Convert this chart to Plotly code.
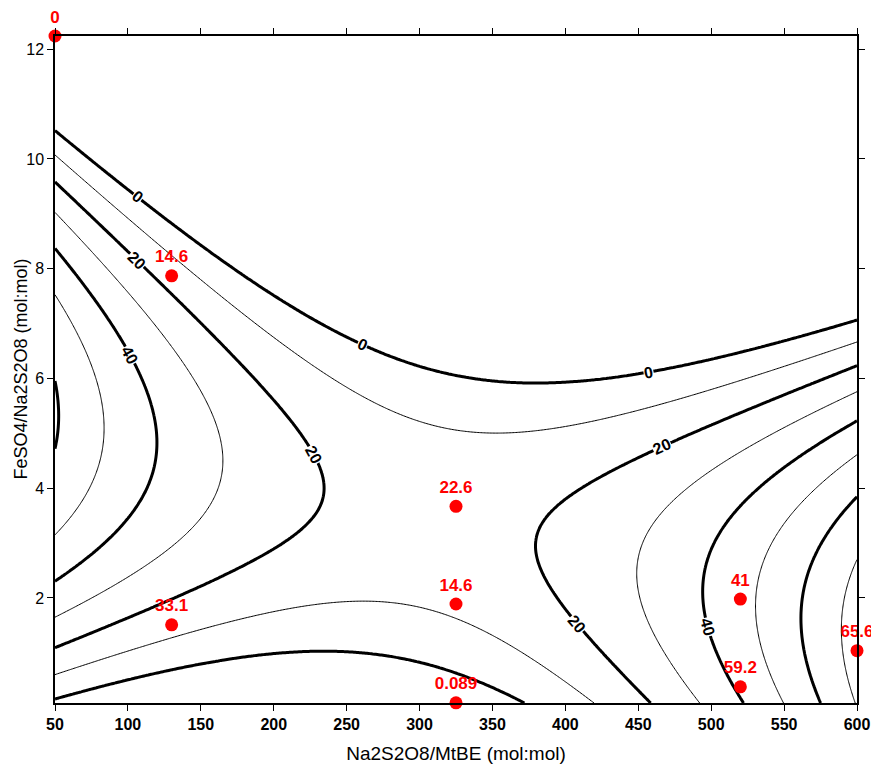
import numpy as np
import plotly.graph_objects as go

# ---------------- data ----------------
# experimental points (x = Na2S2O8/MtBE, y = FeSO4/Na2S2O8) and their values
pt_x = [50, 130, 130, 325, 325, 325, 520, 520, 600]
pt_y = [12.24, 7.87, 1.51, 3.67, 1.89, 0.09, 1.98, 0.38, 1.04]
pt_label = ["0", "14.6", "33.1", "22.6", "14.6", "0.089", "41", "59.2", "65.6"]

# points traced along each contour line of the reference (used to fit the response surface)
lvl0_x = [50, 106.3, 163.3, 245.7, 307.5, 376.1, 444.8, 515.7, 600, 50, 149.6, 245.7, 307.5, 341.8, 373.9]
lvl0_y = [10.52, 9.32, 8.21, 6.83, 6.11, 5.92, 6.07, 6.53, 7.06, 0.18, 0.75, 1.06, 0.91, 0.57, 0.09]
lvl10_x = [50, 129, 245.7, 351, 444.8, 515.7, 600, 50, 149.6, 245.7, 273.2, 341.8, 419.6]
lvl10_y = [10.07, 8.29, 5.92, 5.01, 5.37, 5.89, 6.65, 0.63, 1.36, 1.94, 1.97, 1.36, 0.09]
lvl20_x = [50, 113, 172.4, 225.1, 233.1, 195.4, 131.2, 50, 600, 538.7, 466.6, 424.2, 380.7, 408.2, 444.8, 458.5]
lvl20_y = [9.58, 7.93, 6.22, 4.65, 3.98, 2.88, 1.85, 1.12, 6.22, 5.62, 4.77, 4.19, 2.94, 1.42, 0.45, 0.09]
lvl30_x = [50, 74, 149.6, 164.5, 149.6, 50, 600, 492.9, 449.4, 491.7]
lvl30_y = [9.02, 8.35, 5.92, 4.52, 2.88, 1.67, 5.75, 3.79, 2.58, 0.09]
lvl40_x = [50, 98.1, 118.7, 80.9, 50, 600, 527.2, 494, 497.4, 520.3]
lvl40_y = [8.38, 6.59, 4.95, 2.88, 2.33, 5.22, 4.10, 2.21, 1.42, 0.09]
lvl50_x = [50, 82.1, 50, 600, 530.6, 548.9]
lvl50_y = [7.47, 5.19, 3.19, 4.60, 2.09, 0.09]
lvl60_x = [50, 53.4, 50, 600, 561.5, 574.1]
lvl60_y = [5.89, 5.38, 4.83, 3.85, 1.60, 0.09]
lvl70_x = [600, 590.2, 598.6]
lvl70_y = [2.70, 1.36, 0.09]

# contour labels (value and approximate location)
lab_text = ["0", "0", "0", "20", "20", "20", "20", "40", "40"]
lab_x = [106.3, 260.8, 457.2, 106.1, 227.4, 466.3, 408.2, 101.5, 497.5]
lab_y = [9.32, 6.57, 6.13, 8.14, 4.40, 4.77, 1.42, 6.38, 1.42]

x_tickvals = [50, 100, 150, 200, 250, 300, 350, 400, 450, 500, 550, 600]
y_tickvals = [2, 4, 6, 8, 10, 12]
x_range = [50, 600]
y_range = [0.086, 12.24]
x_title = "Na2S2O8/MtBE (mol:mol)"
y_title = "FeSO4/Na2S2O8 (mol:mol)"

# ---------------- fit quadratic response surface to traced contours ----------------
levels = [(0, lvl0_x, lvl0_y), (10, lvl10_x, lvl10_y), (20, lvl20_x, lvl20_y),
          (30, lvl30_x, lvl30_y), (40, lvl40_x, lvl40_y), (50, lvl50_x, lvl50_y),
          (60, lvl60_x, lvl60_y), (70, lvl70_x, lvl70_y)]
xs, ys, zs = [], [], []
for lv, lx, ly in levels:
    xs += lx
    ys += ly
    zs += [lv] * len(lx)
xs = np.array(xs, float)
ys = np.array(ys, float)
zs = np.array(zs, float)

XC, XS, YC, YS = 325.0, 275.0, 6.0, 6.0


def design(x, y):
    u = (x - XC) / XS
    v = (y - YC) / YS
    return np.stack([np.ones_like(u), u, v, u * u, v * v, u * v], axis=-1)


coef, *_ = np.linalg.lstsq(design(xs, ys), zs, rcond=None)


def zfun(x, y):
    return design(np.asarray(x, float), np.asarray(y, float)) @ coef


def grad(x, y):
    u = (x - XC) / XS
    v = (y - YC) / YS
    b0, b1, b2, b11, b22, b12 = coef
    du = b1 + 2 * b11 * u + b12 * v
    dv = b2 + 2 * b22 * v + b12 * u
    return du / XS, dv / YS


gx = np.linspace(x_range[0], x_range[1], 276)
gy = np.linspace(y_range[0], y_range[1], 300)
GX, GY = np.meshgrid(gx, gy)
GZ = zfun(GX, GY)

FONT = "Liberation Sans, Arial, sans-serif"

fig = go.Figure()
# thin contours (10, 30, 50, 70)
fig.add_trace(go.Contour(
    x=gx, y=gy, z=GZ, autocontour=False, showscale=False, hoverinfo="skip",
    contours=dict(start=10, end=70, size=20, coloring="none", showlabels=False),
    line=dict(color="black", width=1, smoothing=1.3),
))
# thick contours (0, 20, 40, 60)
fig.add_trace(go.Contour(
    x=gx, y=gy, z=GZ, autocontour=False, showscale=False, hoverinfo="skip",
    contours=dict(start=0, end=60, size=20, coloring="none", showlabels=False),
    line=dict(color="black", width=3, smoothing=1.3),
))
# experimental points
fig.add_trace(go.Scatter(
    x=pt_x, y=pt_y, mode="markers+text", text=pt_label, textposition="top center",
    textfont=dict(family=FONT, size=17, color="red", weight="bold"),
    marker=dict(color="red", size=13, line=dict(width=0)),
    cliponaxis=False, showlegend=False, hoverinfo="skip",
))

# figure geometry (the page body adds an 8px offset)
W, H = 871, 756
L, R, T, B = 47, 22, 28, 61
sx = (W - L - R) / (x_range[1] - x_range[0])
sy = (H - T - B) / (y_range[1] - y_range[0])

for txt, lx, ly in zip(lab_text, lab_x, lab_y):
    lvl = float(txt)
    # snap the label onto the fitted contour line
    for _ in range(3):
        gxv, gyv = grad(lx, ly)
        g2 = gxv * gxv + gyv * gyv
        dz = float(zfun(lx, ly)) - lvl
        lx, ly = lx - dz * gxv / g2, ly - dz * gyv / g2
    gxv, gyv = grad(lx, ly)
    tx, ty = -gyv * sx, -gxv * sy  # tangent in screen coords (y down)
    ang = np.degrees(np.arctan2(ty, tx))
    if ang > 90:
        ang -= 180
    elif ang <= -90:
        ang += 180
    fig.add_annotation(x=lx, y=ly, text=txt, showarrow=False, textangle=float(ang),
                       font=dict(family=FONT, size=16, color="black", weight="bold"),
                       bgcolor="white", borderpad=0)

# y-axis title
fig.add_annotation(xref="paper", yref="paper", x=0, y=0.5, xshift=-35, text=y_title,
                   textangle=-90, showarrow=False, xanchor="center", yanchor="middle",
                   font=dict(family=FONT, size=18, color="black"))

axis_common = dict(showgrid=False, zeroline=False, showline=True, linecolor="black",
                   linewidth=1.5, mirror="ticks", ticks="outside", ticklen=6,
                   tickcolor="black", tickwidth=1.2, automargin=False)
fig.update_xaxes(range=x_range, tickvals=x_tickvals,
                 tickfont=dict(family=FONT, size=16, color="black", weight="bold"),
                 title=dict(text=x_title, font=dict(family=FONT, size=19, color="black"),
                            standoff=24),
                 **axis_common)
fig.update_yaxes(range=y_range, tickvals=y_tickvals,
                 tickfont=dict(family=FONT, size=16, color="black"),
                 **axis_common)
fig.update_layout(width=W, height=H, plot_bgcolor="white", paper_bgcolor="white",
                  margin=dict(l=L, r=R, t=T, b=B), showlegend=False)

fig.write_html("out.html")
